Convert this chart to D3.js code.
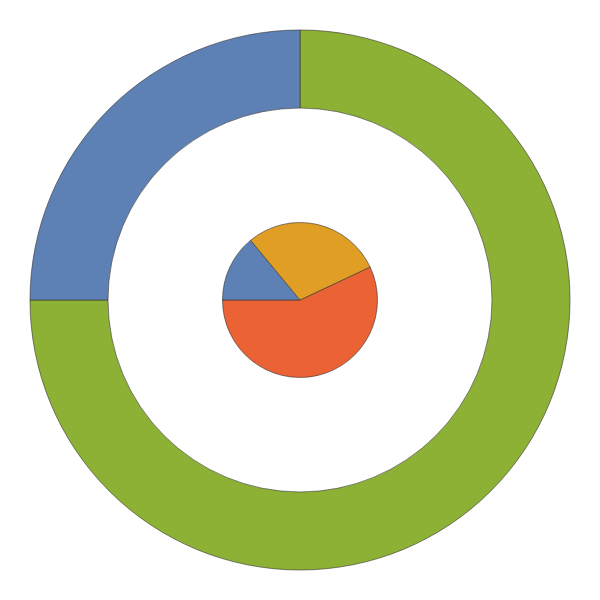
<!DOCTYPE html>
<html><head><meta charset="utf-8">
<script src="https://cdn.jsdelivr.net/npm/d3@7"></script>
<style>body{margin:0;background:#fff}</style>
</head><body>
<svg id="c" width="600" height="600"></svg>
<script>
const outerCategories = ["A", "B"];
const outerValues = [75, 25];
const outerColors = ["#8db134", "#5d81b4"];
const innerCategories = ["X", "Y", "Z"];
const innerValues = [57, 14, 29];
const innerColors = ["#eb6235", "#5d81b4", "#e09e25"];

const svg = d3.select("#c");
const g = svg.append("g").attr("transform", "translate(300,300)");

const outerPie = d3.pie().sort(null).value(d => d)
  .startAngle(0).endAngle(2 * Math.PI);
const outerArc = d3.arc().innerRadius(192).outerRadius(270);
g.selectAll("path.o").data(outerPie(outerValues)).join("path")
  .attr("class", "o")
  .attr("d", outerArc)
  .attr("fill", (d, i) => outerColors[i])
  .attr("stroke", "#333").attr("stroke-width", 0.6);

const start = (270 - 360 * innerValues[0] / d3.sum(innerValues)) * Math.PI / 180;
const innerPie = d3.pie().sort(null).value(d => d)
  .startAngle(start).endAngle(start + 2 * Math.PI);
const innerArc = d3.arc().innerRadius(0).outerRadius(77.5);
g.selectAll("path.i").data(innerPie(innerValues)).join("path")
  .attr("class", "i")
  .attr("d", innerArc)
  .attr("fill", (d, i) => innerColors[i])
  .attr("stroke", "#333").attr("stroke-width", 0.6);
</script>
</body></html>
